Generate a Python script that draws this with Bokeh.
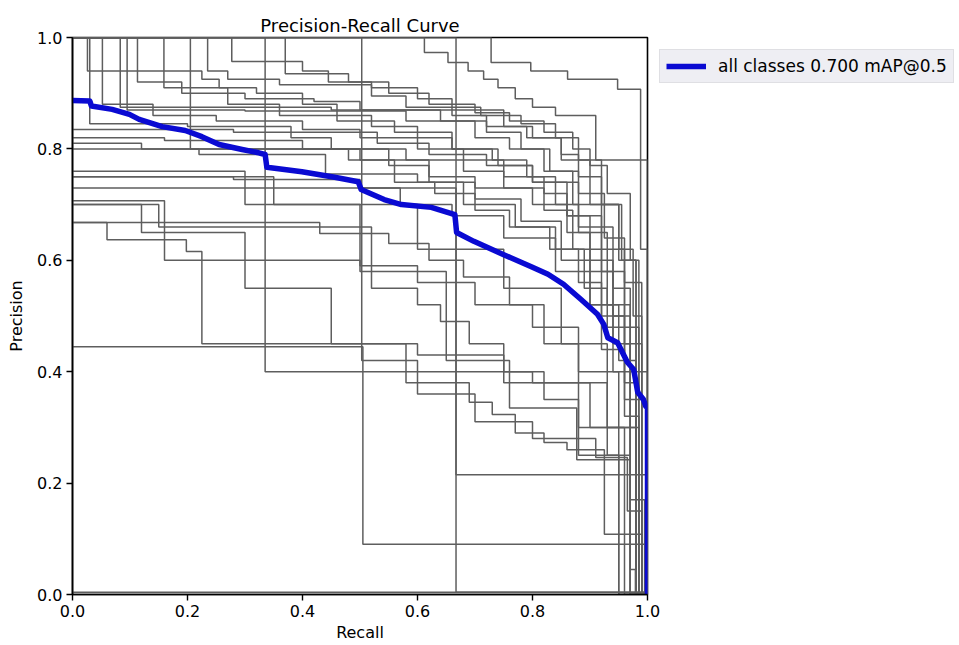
from bokeh.plotting import figure
from bokeh.models import Range1d, Legend, LegendItem, FixedTicker
from bokeh.embed import file_html
from bokeh.resources import INLINE

# ---- per-class PR curves: recall end of each precision level, and the level ----
rec_01 = [0.728, 0.797, 0.861, 0.948, 0.988, 1.0, 1.0]
prec_01 = [1.0, 0.955, 0.94, 0.925, 0.907, 0.62, 0.0]
rec_02 = [0.612, 0.653, 0.688, 0.715, 0.74, 0.77, 0.80, 0.84, 0.91, 1.0, 1.0]
prec_02 = [1.0, 0.973, 0.955, 0.94, 0.925, 0.91, 0.89, 0.875, 0.86, 0.78, 0.0]
rec_03 = [0.37, 0.48, 0.55, 0.62, 0.70, 0.76, 0.82, 0.87, 0.90, 0.93, 0.97, 0.985, 1.0]
prec_03 = [1.0, 0.935, 0.92, 0.90, 0.88, 0.865, 0.85, 0.83, 0.80, 0.77, 0.72, 0.60, 0.0]
rec_04 = [0.235, 0.27, 0.36, 0.52, 0.58, 0.66, 0.72, 0.79, 0.85, 0.88, 0.92, 0.95, 0.975, 0.99, 1.0]
prec_04 = [1.0, 0.94, 0.925, 0.915, 0.895, 0.875, 0.86, 0.84, 0.82, 0.79, 0.75, 0.70, 0.62, 0.50, 0.0]
rec_05 = [0.083, 0.45, 0.75, 0.80, 0.85, 0.90, 0.95, 0.98, 1.0]
prec_05 = [1.0, 0.875, 0.87, 0.84, 0.82, 0.78, 0.70, 0.60, 0.0]
rec_06 = [0.095, 0.30, 0.58, 0.70, 0.76, 0.82, 0.87, 0.92, 0.96, 0.99, 1.0]
prec_06 = [1.0, 0.87, 0.868, 0.85, 0.82, 0.80, 0.76, 0.70, 0.62, 0.45, 0.0]
rec_07 = [0.28, 0.53, 0.62, 0.72, 0.80, 0.88, 0.94, 0.97, 1.0, 1.0]
prec_07 = [0.835, 0.83, 0.81, 0.79, 0.77, 0.74, 0.66, 0.55, 0.40, 0.0]
rec_08 = [0.16, 0.40, 0.58, 0.68, 0.75, 0.82, 0.87, 0.92, 0.96, 0.99, 1.0]
prec_08 = [0.82, 0.815, 0.80, 0.78, 0.76, 0.73, 0.69, 0.62, 0.50, 0.35, 0.0]
rec_09 = [0.12, 0.50, 0.62, 0.70, 0.80, 0.86, 0.90, 0.94, 0.97, 0.985, 1.0]
prec_09 = [0.81, 0.80, 0.78, 0.75, 0.73, 0.70, 0.65, 0.58, 0.45, 0.30, 0.0]
rec_10 = [0.22, 0.44, 0.60, 0.68, 0.77, 0.84, 0.89, 0.93, 0.96, 0.98, 1.0]
prec_10 = [0.80, 0.79, 0.755, 0.74, 0.70, 0.66, 0.62, 0.55, 0.48, 0.38, 0.0]
rec_11 = [0.28, 0.50, 0.57, 0.66, 0.75, 0.84, 0.90, 0.95, 0.98, 1.0]
prec_11 = [0.75, 0.745, 0.73, 0.70, 0.68, 0.64, 0.58, 0.52, 0.42, 0.0]
rec_12 = [0.16, 0.50, 0.60, 0.70, 0.80, 0.88, 0.95, 0.98, 1.0]
prec_12 = [0.707, 0.60, 0.59, 0.56, 0.52, 0.48, 0.40, 0.30, 0.0]
rec_13 = [0.06, 0.198, 0.225, 0.60, 0.75, 0.88, 0.95, 1.0]
prec_13 = [0.668, 0.637, 0.616, 0.45, 0.43, 0.38, 0.30, 0.0]
rec_14 = [0.43, 0.55, 0.62, 0.68, 0.76, 0.82, 0.88, 0.93, 0.97, 1.0]
prec_14 = [0.668, 0.648, 0.63, 0.60, 0.57, 0.52, 0.45, 0.38, 0.25, 0.0]
rec_15 = [0.505, 1.0, 1.0]
prec_15 = [0.445, 0.09, 0.0]
rec_16 = [0.335, 0.80, 0.90, 0.96, 1.0]
prec_16 = [1.0, 0.40, 0.38, 0.30, 0.0]
rec_17 = [0.667, 1.0]
prec_17 = [0.73, 0.004]
rec_18 = [0.667, 1.0, 1.0]
prec_18 = [1.0, 0.215, 0.0]
rec_19 = [0.12, 0.30, 0.45, 0.58, 0.69, 0.73, 0.77, 0.82, 0.86, 0.925, 0.99, 1.0]
prec_19 = [0.70, 0.65, 0.55, 0.45, 0.38, 0.345, 0.323, 0.29, 0.273, 0.26, 0.108, 0.0]
rec_20 = [0.503, 0.60, 0.70, 0.80, 0.91, 0.965, 0.99, 1.0]
prec_20 = [1.0, 0.42, 0.36, 0.31, 0.28, 0.246, 0.15, 0.0]
rec_21 = [0.30, 0.50, 0.65, 0.76, 0.877, 0.97, 0.995, 1.0]
prec_21 = [0.76, 0.70, 0.58, 0.42, 0.335, 0.242, 0.17, 0.0]
rec_22 = [0.15, 0.52, 0.60, 0.64, 0.69, 0.75, 0.82, 0.88, 0.95, 1.0]
prec_22 = [0.70, 0.66, 0.55, 0.52, 0.49, 0.45, 0.40, 0.35, 0.25, 0.0]
rec_23 = [0.026, 0.225, 0.255, 0.32, 0.40, 0.46, 0.52, 0.60, 0.66, 0.74, 0.80, 0.86, 0.90, 0.94, 0.97, 1.0]
prec_23 = [1.0, 0.94, 0.925, 0.91, 0.90, 0.88, 0.86, 0.84, 0.82, 0.80, 0.77, 0.74, 0.68, 0.60, 0.50, 0.0]
rec_24 = [0.03, 0.20, 0.38, 0.45, 0.55, 0.62, 0.70, 0.78, 0.85, 0.90, 0.94, 0.97, 1.0]
prec_24 = [1.0, 0.845, 0.84, 0.82, 0.80, 0.77, 0.74, 0.71, 0.67, 0.60, 0.52, 0.40, 0.0]
rec_25 = [0.052, 0.14, 0.25, 0.40, 0.50, 0.60, 0.68, 0.75, 0.82, 0.86, 0.92, 0.96, 0.985, 1.0]
prec_25 = [1.0, 0.88, 0.86, 0.85, 0.835, 0.82, 0.80, 0.78, 0.75, 0.72, 0.68, 0.58, 0.48, 0.0]
rec_26 = [0.113, 0.19, 0.30, 0.42, 0.50, 0.64, 0.72, 0.78, 0.83, 0.88, 0.925, 0.96, 0.99, 1.0]
prec_26 = [1.0, 0.92, 0.90, 0.89, 0.885, 0.87, 0.85, 0.83, 0.80, 0.76, 0.72, 0.64, 0.56, 0.0]
rec_27 = [0.159, 0.27, 0.36, 0.46, 0.56, 0.66, 0.73, 0.79, 0.84, 0.88, 0.93, 0.97, 1.0]
prec_27 = [1.0, 0.91, 0.88, 0.86, 0.85, 0.83, 0.80, 0.78, 0.75, 0.70, 0.65, 0.52, 0.0]
rec_28 = [0.205, 0.48, 0.56, 0.63, 0.70, 0.76, 0.83, 0.88, 0.92, 0.96, 0.985, 1.0]
prec_28 = [1.0, 0.80, 0.78, 0.74, 0.72, 0.69, 0.66, 0.62, 0.56, 0.44, 0.32, 0.0]
rec_29 = [0.277, 0.40, 0.445, 0.52, 0.60, 0.66, 0.71, 0.78, 0.84, 0.88, 0.92, 0.955, 0.98, 1.0]
prec_29 = [1.0, 0.957, 0.94, 0.92, 0.91, 0.89, 0.875, 0.86, 0.845, 0.82, 0.78, 0.70, 0.60, 0.0]
rec_30 = [1.0]
prec_30 = [0.004]
rec_31 = [0.35, 0.60, 0.75, 0.85, 0.93, 0.97, 0.979, 1.0]
prec_31 = [0.75, 0.70, 0.62, 0.55, 0.45, 0.30, 0.045, 0.0]

class_recalls = [rec_01, rec_02, rec_03, rec_04, rec_05, rec_06, rec_07, rec_08, rec_09, rec_10,
                 rec_11, rec_12, rec_13, rec_14, rec_15, rec_16, rec_17, rec_18, rec_19, rec_20,
                 rec_21, rec_22, rec_23, rec_24, rec_25, rec_26, rec_27, rec_28, rec_29, rec_30, rec_31]
class_precs = [prec_01, prec_02, prec_03, prec_04, prec_05, prec_06, prec_07, prec_08, prec_09, prec_10,
               prec_11, prec_12, prec_13, prec_14, prec_15, prec_16, prec_17, prec_18, prec_19, prec_20,
               prec_21, prec_22, prec_23, prec_24, prec_25, prec_26, prec_27, prec_28, prec_29, prec_30, prec_31]

# ---- all-classes mean curve ----
mean_rec = [0.0, 0.03, 0.033, 0.069, 0.099, 0.116, 0.156, 0.196, 0.225, 0.255,
            0.295, 0.324, 0.335, 0.338, 0.399, 0.456, 0.497, 0.502, 0.542, 0.572,
            0.624, 0.665, 0.668, 0.698, 0.75, 0.797, 0.827, 0.854, 0.884, 0.913,
            0.924, 0.931, 0.948, 0.965, 0.976, 0.983, 0.993, 0.997, 1.0, 1.0]
mean_prec = [0.887, 0.886, 0.877, 0.871, 0.862, 0.853, 0.84, 0.833, 0.822, 0.808,
             0.799, 0.793, 0.79, 0.767, 0.759, 0.749, 0.741, 0.727, 0.709, 0.70,
             0.695, 0.682, 0.65, 0.634, 0.61, 0.589, 0.575, 0.557, 0.53, 0.503,
             0.485, 0.461, 0.452, 0.417, 0.404, 0.363, 0.35, 0.338, 0.338, 0.0]
mean_label = "all classes 0.700 mAP@0.5"

tick_values = [0.0, 0.2, 0.4, 0.6, 0.8, 1.0]
tick_labels = ["0.0", "0.2", "0.4", "0.6", "0.8", "1.0"]


def step_vertices(rec, prec):
    xs, ys = [0.0], [prec[0]]
    for i, (r, pv) in enumerate(zip(rec, prec)):
        xs.append(r)
        ys.append(pv)
        if i + 1 < len(prec):
            xs.append(r)
            ys.append(prec[i + 1])
    return xs, ys


all_xs, all_ys = [], []
for rec, prec in zip(class_recalls, class_precs):
    xs, ys = step_vertices(rec, prec)
    all_xs.append(xs)
    all_ys.append(ys)

FONT = "DejaVu Sans"

p = figure(frame_width=575, frame_height=557, x_range=Range1d(0, 1), y_range=Range1d(0, 1),
           output_backend="svg", toolbar_location=None,
           min_border_left=72, min_border_right=312, min_border_top=37, min_border_bottom=51,
           title="Precision-Recall Curve")

p.multi_line(all_xs, all_ys, line_color="#5e5e5e", line_width=1.5)
blue = p.line(mean_rec, mean_prec, line_color="#0a0ad2", line_width=5.5, line_join="round")

p.title.text_font = FONT
p.title.text_font_size = "18px"
p.title.text_font_style = "normal"
p.title.align = "center"
p.title.text_color = "black"
p.title.standoff = 4

for ax in (p.xaxis[0], p.yaxis[0]):
    ax.ticker = FixedTicker(ticks=tick_values)
    ax.major_label_overrides = {v: s for v, s in zip(tick_values, tick_labels)}
    ax.major_label_text_font = FONT
    ax.major_label_text_font_size = "16px"
    ax.major_label_text_color = "black"
    ax.axis_label_text_font = FONT
    ax.axis_label_text_font_size = "16px"
    ax.axis_label_text_font_style = "normal"
    ax.axis_label_text_color = "black"
    ax.axis_line_width = 1.6
    ax.axis_line_color = "black"
    ax.major_tick_line_width = 1.4
    ax.major_tick_out = 6
    ax.major_tick_in = 0
    ax.minor_tick_out = 0
    ax.minor_tick_in = 0
    ax.major_label_standoff = 4

p.xaxis.axis_label = "Recall"
p.yaxis.axis_label = "Precision"
p.xaxis.axis_label_standoff = 3
p.yaxis.axis_label_standoff = 8
p.xgrid.visible = False
p.ygrid.visible = False
p.outline_line_color = "black"
p.outline_line_width = 1.6
p.background_fill_color = "white"

legend = Legend(items=[LegendItem(label=mean_label, renderers=[blue])],
                location="top_left")
legend.label_text_font = FONT
legend.label_text_font_size = "17px"
legend.label_text_color = "black"
legend.glyph_width = 40
legend.glyph_height = 20
legend.label_standoff = 12
legend.padding = 6
legend.margin = 12
legend.border_line_color = "#cfcfd4"
legend.border_line_width = 1.2
legend.background_fill_color = "#eeeef3"
legend.background_fill_alpha = 1.0
p.add_layout(legend, "right")

open("out.html", "w").write(file_html(p, INLINE))
